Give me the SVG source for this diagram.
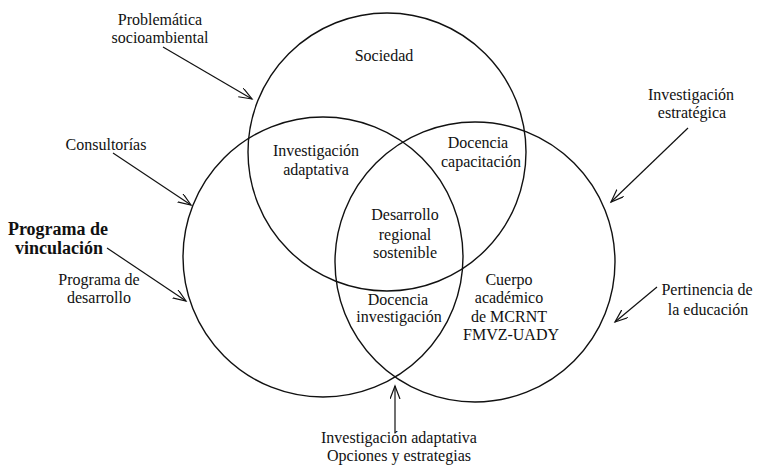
<svg xmlns="http://www.w3.org/2000/svg" width="766" height="466" viewBox="0 0 766 466">
<style>
.c{fill:none;stroke:#111;stroke-width:1.4}
.l{fill:none;stroke:#111;stroke-width:1.2}
text{font-family:'Liberation Serif','Times New Roman','DejaVu Serif',serif;font-size:16px;fill:#111;text-anchor:middle}
.b{font-weight:bold;font-size:18px}
</style>
<defs>
<marker id="ah" markerUnits="userSpaceOnUse" markerWidth="16" markerHeight="12" refX="13" refY="5" orient="auto">
<path d="M0,0 L13,5 L0,10" fill="none" stroke="#111" stroke-width="1.2"/>
</marker>
</defs>
<g font-family="Liberation Serif, Times New Roman, DejaVu Serif, serif">
<g id="sociedad">
<circle class="c" cx="387" cy="152" r="139"/>
<text x="384" y="61">Sociedad</text>
</g>
<g id="programa-vinculacion-circle">
<circle class="c" cx="323" cy="257" r="140"/>
</g>
<g id="cuerpo-academico">
<circle class="c" cx="475" cy="262" r="140"/>
<text x="509" y="285">Cuerpo</text>
<text x="509" y="303">académico</text>
<text x="509" y="322">de MCRNT</text>
<text x="511" y="340">FMVZ-UADY</text>
</g>
<g id="investigacion-adaptativa">
<text x="316" y="156">Investigación</text>
<text x="316" y="175">adaptativa</text>
</g>
<g id="docencia-capacitacion">
<text x="478" y="148">Docencia</text>
<text x="481" y="167">capacitación</text>
</g>
<g id="desarrollo-regional">
<text x="405" y="220">Desarrollo</text>
<text x="405" y="240">regional</text>
<text x="405" y="258">sostenible</text>
</g>
<g id="docencia-investigacion">
<text x="398" y="305">Docencia</text>
<text x="399" y="322">investigación</text>
</g>
<g id="problematica">
<text x="160" y="25">Problemática</text>
<text x="160" y="43">socioambiental</text>
</g>
<g id="consultorias">
<text x="106" y="150">Consultorías</text>
</g>
<g id="programa-vinculacion">
<text class="b" x="58" y="235">Programa de</text>
<text class="b" x="59" y="254">vinculación</text>
</g>
<g id="programa-desarrollo">
<text x="99" y="285">Programa de</text>
<text x="99" y="303">desarrollo</text>
</g>
<g id="investigacion-estrategica">
<text x="691" y="100">Investigación</text>
<text x="692" y="118">estratégica</text>
</g>
<g id="pertinencia">
<text x="707" y="295">Pertinencia de</text>
<text x="708" y="315">la educación</text>
</g>
<g id="opciones">
<text x="399" y="443">Investigación adaptativa</text>
<text x="399" y="461">Opciones y estrategias</text>
</g>
</g>
<g id="connectors">
<line class="l" x1="163" y1="47" x2="252" y2="99" marker-end="url(#ah)"/>
<line class="l" x1="113" y1="153" x2="191" y2="205" marker-end="url(#ah)"/>
<line class="l" x1="107" y1="248" x2="186" y2="301" marker-end="url(#ah)"/>
<line class="l" x1="688" y1="128" x2="611" y2="202" marker-end="url(#ah)"/>
<line class="l" x1="657" y1="287" x2="615" y2="322" marker-end="url(#ah)"/>
<line class="l" x1="395" y1="433" x2="395" y2="386" marker-end="url(#ah)"/>
</g>
</svg>
